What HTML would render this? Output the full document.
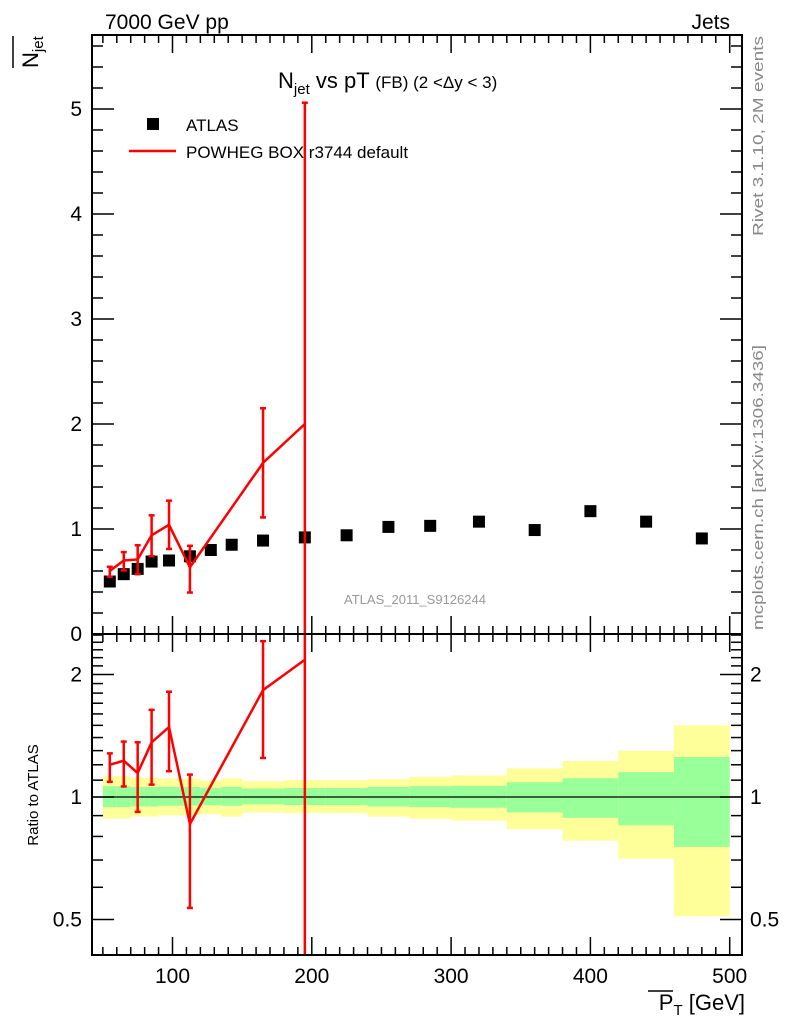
<!DOCTYPE html>
<html><head><meta charset="utf-8"><style>
body{margin:0;background:#fff}
svg text{font-family:"Liberation Sans",sans-serif}
</style></head><body>
<svg id="c" width="786" height="1024" xmlns="http://www.w3.org/2000/svg">
<g id="bands"></g>
<g id="marks"></g>
<g id="axes"></g>
<text x="105" y="29" font-size="21">7000 GeV pp</text>
<text x="730" y="29" font-size="21" text-anchor="end">Jets</text>
<text x="278" y="88" font-size="22">N<tspan font-size="15" dy="6">jet</tspan><tspan dy="-6"> vs pT </tspan><tspan font-size="17">(FB) (2 &lt;Δy &lt; 3)</tspan></text>
<rect x="147" y="118" width="12" height="12" fill="#000"/>
<text x="186" y="131" font-size="17">ATLAS</text>
<line x1="129" y1="151" x2="176" y2="151" stroke="#f00" stroke-width="2.5"/>
<text x="186" y="158" font-size="17">POWHEG BOX r3744 default</text>
<text x="415" y="604" font-size="13" fill="#999" text-anchor="middle">ATLAS_2011_S9126244</text>
<text transform="translate(763,236) rotate(-90)" font-size="15" fill="#888" textLength="200" lengthAdjust="spacingAndGlyphs">Rivet 3.1.10,  2M events</text>
<text transform="translate(763,630) rotate(-90)" font-size="15" fill="#888" textLength="285" lengthAdjust="spacingAndGlyphs">mcplots.cern.ch [arXiv:1306.3436]</text>
<g transform="translate(38,68) rotate(-90)">
<text x="0" y="0" font-size="22">N<tspan font-size="15" dy="5">jet</tspan></text>
<line x1="0" y1="-25" x2="32" y2="-25" stroke="#000" stroke-width="1.5"/>
</g>
<text transform="translate(38,795) rotate(-90)" font-size="15" text-anchor="middle">Ratio to ATLAS</text>
<g>
<text x="745" y="1010" font-size="22" text-anchor="end">P<tspan font-size="15" dy="5">T</tspan><tspan dy="-5"> [GeV]</tspan></text>
<line x1="648" y1="991" x2="673" y2="991" stroke="#000" stroke-width="1.5"/>
</g>
</svg>
<script>
const edges=[50,60,70,80,90,105,120,135,150,180,210,240,270,300,340,380,420,460,500];
const dataY=[0.50,0.57,0.62,0.69,0.70,0.74,0.80,0.85,0.89,0.92,0.94,1.02,1.03,1.07,0.99,1.17,1.07,0.91];
const yelUp=[1.125,1.125,1.115,1.115,1.110,1.110,1.098,1.112,1.094,1.100,1.100,1.106,1.121,1.130,1.176,1.226,1.298,1.500];
const grnUp=[1.063,1.063,1.059,1.059,1.059,1.059,1.053,1.059,1.049,1.053,1.053,1.059,1.063,1.065,1.087,1.112,1.151,1.254];
const grnDn=[0.944,0.944,0.948,0.948,0.952,0.952,0.955,0.952,0.959,0.955,0.955,0.948,0.944,0.941,0.916,0.889,0.852,0.754];
const yelDn=[0.885,0.885,0.895,0.895,0.902,0.902,0.907,0.895,0.916,0.913,0.913,0.895,0.884,0.875,0.833,0.781,0.705,0.509];
const mcIdx=[0,1,2,3,4,5,8,9];
const mcY=[0.60,0.70,0.71,0.94,1.04,0.635,1.63,2.0];
const mcHi=[0.64,0.78,0.845,1.13,1.27,0.84,2.15,5.06];
const mcLo=[0.545,0.605,0.57,0.74,0.81,0.395,1.11,-1.06];
const xTicks=[100,200,300,400,500];
const yTicks=[0,1,2,3,4,5];
const rTicks=[0.5,1,2];

const NS="http://www.w3.org/2000/svg";
const L=92,R=742,T1=35,B1=634,B2=955;
const X=v=>172.5+(v-100)*1.393;
const Y=v=>634-v*105;
const RY=v=>797-122.5*Math.log2(v);
function mk(par,tag,at){const e=document.createElementNS(NS,tag);for(const k in at)e.setAttribute(k,at[k]);document.getElementById(par).appendChild(e);return e;}
const clampM=y=>Math.max(T1,Math.min(B1,y)), clampR=y=>Math.max(B1,Math.min(B2,y));

for(let i=0;i<dataY.length;i++){
  const x0=X(edges[i]),x1=X(edges[i+1]);
  let e=mk('bands','rect',{x:x0,y:RY(yelUp[i]),width:x1-x0,height:RY(yelDn[i])-RY(yelUp[i]),fill:'#ffff99'});
  
  
  e=mk('bands','rect',{x:x0,y:RY(grnUp[i]),width:x1-x0,height:RY(grnDn[i])-RY(grnUp[i]),fill:'#99ff99'});
  
  
}
let ln=mk('bands','line',{x1:L,x2:R,y1:RY(1),y2:RY(1),stroke:'#000','stroke-width':1.2});



for(let i=0;i<dataY.length;i++){
  const cx=(X(edges[i])+X(edges[i+1]))/2;
  const e=mk('marks','rect',{x:cx-6,y:Y(dataY[i])-6,width:12,height:12,fill:'#000'});
  
  
}
let pm=[],pr=[];
for(let j=0;j<mcIdx.length;j++){
  const i=mcIdx[j];const cx=(X(edges[i])+X(edges[i+1]))/2;
  pm.push(cx+','+Y(mcY[j]));pr.push(cx+','+RY(mcY[j]/dataY[i]));
  const t=clampM(Y(mcHi[j])),b=clampM(Y(mcLo[j]));
  let e=mk('marks','line',{x1:cx,x2:cx,y1:t,y2:b,stroke:'#f00','stroke-width':2.5});
  
  
  const rh=mcHi[j]/dataY[i], rl=mcLo[j]/dataY[i];
  const rt=clampR(RY(rh)), rb=rl>0?clampR(RY(rl)):B2;
  e=mk('marks','line',{x1:cx,x2:cx,y1:rt,y2:rb,stroke:'#f00','stroke-width':2.5});
  
  
  [[t,Y(mcHi[j])],[b,Y(mcLo[j])],[rt,RY(rh)],[rb,rl>0?RY(rl):1e9]].forEach(([y,raw])=>{
    if(Math.abs(y-raw)<0.01){const c=mk('marks','line',{x1:cx-3,x2:cx+3,y1:y,y2:y,stroke:'#f00','stroke-width':2.5});
    
    }
  });
}
let p=mk('marks','polyline',{points:pm.join(' '),fill:'none',stroke:'#f00','stroke-width':2.5});


p=mk('marks','polyline',{points:pr.join(' '),fill:'none',stroke:'#f00','stroke-width':2.5});



[[T1,B1,'main-frame'],[B1,B2,'ratio-frame']].forEach(([t,b,n])=>{
  const e=mk('axes','rect',{x:L,y:t,width:R-L,height:b-t,fill:'none',stroke:'#000','stroke-width':2});
  
  
});
function tick(x1,y1,x2,y2){const e=mk('axes','line',{x1,y1,x2,y2,stroke:'#000','stroke-width':1.5});

}
function label(x,y,s,anc,n){const e=mk('axes','text',{x,y,'font-size':21,'text-anchor':anc});e.textContent=s;

}
for(let v=50;v<=500;v+=10){const x=X(v);if(x<L||x>R)continue;const big=v%100===0;const h=big?18:8;
  [[T1,1],[B1,-1],[B1,1],[B2,-1]].forEach(([y,d])=>tick(x,y,x,y+d*h));}
xTicks.forEach(v=>label(X(v),983,String(v),'middle','x-tick-label'));
for(let k=0;k<=28;k++){const v=k*0.2;const y=Y(v);if(y<T1)continue;const big=k%5===0;const h=big?22:11;
  tick(L,y,L+h,y);tick(R,y,R-h,y);}
yTicks.forEach(v=>label(82,Y(v)+7,String(v),'end','y-tick-label'));
const rm=[0.4,0.5,0.6,0.7,0.8,0.9,1,1.1,1.2,1.3,1.4,1.5,1.6,1.7,1.8,1.9,2,2.1,2.2,2.3,2.4,2.5];
rm.forEach(v=>{const y=RY(v);if(y<B1||y>B2)return;const big=rTicks.includes(v);const h=big?22:11;tick(L,y,L+h,y);tick(R,y,R-h,y);});
rTicks.forEach(v=>{label(82,RY(v)+7,String(v),'end','ratio-tick-label');label(750,RY(v)+7,String(v),'start','ratio-tick-label-right');});
</script>
</body></html>
